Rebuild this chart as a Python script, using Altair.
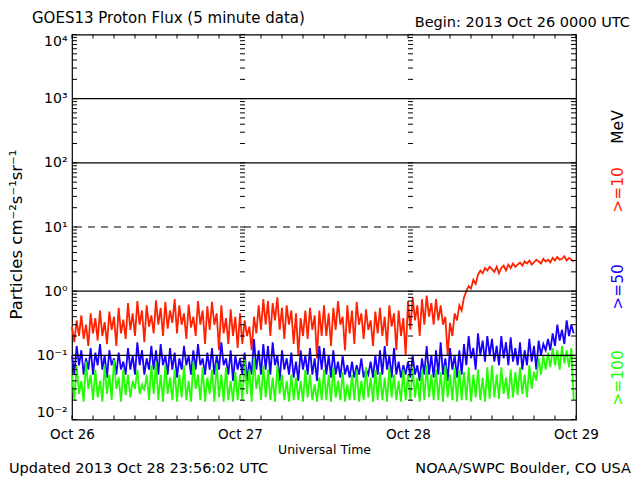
import altair as alt
import pandas as pd

STEP_MIN = 20  # minutes between samples
day_labels = ["Oct 26", "Oct 27", "Oct 28", "Oct 29"]
day_hours = [0, 24, 48, 72]
decades = [0.01, 0.1, 1, 10, 100, 1000, 10000]
exp_labels = ["10⁻²", "10⁻¹", "10⁰", "10¹", "10²", "10³", "10⁴"]

# >=10 MeV
red = [
    0.28, 0.16, 0.35, 0.20, 0.42, 0.18, 0.30, 0.14, 0.45, 0.22, 0.38, 0.17,
    0.50, 0.20, 0.33, 0.15, 0.48, 0.25, 0.40, 0.14, 0.55, 0.22, 0.36, 0.18,
    0.65, 0.25, 0.45, 0.20, 0.70, 0.30, 0.50, 0.16, 0.60, 0.28, 0.42, 0.22,
    0.72, 0.30, 0.55, 0.20, 0.68, 0.26, 0.50, 0.32, 0.75, 0.22, 0.60, 0.30,
    0.45, 0.18, 0.62, 0.27, 0.40, 0.20, 0.70, 0.30, 0.50, 0.15, 0.58, 0.25,
    0.68, 0.30, 0.45, 0.12, 0.60, 0.22, 0.38, 0.15, 0.52, 0.20, 0.40, 0.13,
    0.45, 0.15, 0.35, 0.20, 0.28, 0.12, 0.40, 0.22, 0.60, 0.25, 0.75, 0.30,
    0.70, 0.20, 0.65, 0.35, 0.80, 0.25, 0.55, 0.18, 0.60, 0.30, 0.50, 0.15,
    0.45, 0.10, 0.38, 0.20, 0.50, 0.18, 0.55, 0.25, 0.42, 0.09, 0.50, 0.20,
    0.60, 0.20, 0.45, 0.14, 0.55, 0.25, 0.70, 0.30, 0.40, 0.12, 0.60, 0.22,
    0.50, 0.15, 0.68, 0.30, 0.45, 0.18, 0.52, 0.25, 0.35, 0.14, 0.48, 0.22,
    0.55, 0.20, 0.40, 0.14, 0.60, 0.28, 0.45, 0.12, 0.50, 0.20, 0.38, 0.10,
    0.70, 0.25, 0.80, 0.35, 0.60, 0.20, 0.75, 0.30, 0.85, 0.40, 0.65, 0.30,
    0.75, 0.35, 0.60, 0.30, 0.40, 0.10, 0.32, 0.20, 0.45, 0.35, 0.60, 0.50,
    0.80, 1.00, 1.20, 1.10, 1.50, 1.30, 1.80, 2.10, 1.90, 2.30, 2.10, 2.40,
    2.20, 2.00, 2.40, 1.90, 2.30, 2.50, 2.10, 2.60, 2.30, 2.70, 2.40, 2.60,
    2.80, 2.50, 2.90, 2.70, 3.00, 2.60, 2.80, 3.10, 2.90, 2.70, 3.20, 2.90,
    3.10, 2.80, 3.30, 3.00, 3.40, 3.10, 3.20, 3.50, 3.00, 3.30, 3.10, 2.90,
]

# >=50 MeV
blue = [
    0.10, 0.05, 0.14, 0.07, 0.12, 0.05, 0.09, 0.06, 0.13, 0.05, 0.11, 0.07,
    0.15, 0.06, 0.10, 0.045, 0.12, 0.07, 0.09, 0.05, 0.11, 0.06, 0.08, 0.05,
    0.13, 0.06, 0.10, 0.05, 0.16, 0.07, 0.12, 0.05, 0.09, 0.06, 0.14, 0.06,
    0.12, 0.05, 0.15, 0.07, 0.10, 0.05, 0.13, 0.06, 0.11, 0.045, 0.09, 0.06,
    0.14, 0.07, 0.10, 0.05, 0.12, 0.06, 0.15, 0.07, 0.09, 0.05, 0.11, 0.06,
    0.13, 0.05, 0.10, 0.06, 0.16, 0.07, 0.09, 0.05, 0.12, 0.04, 0.10, 0.06,
    0.09, 0.05, 0.11, 0.04, 0.08, 0.05, 0.18, 0.06, 0.12, 0.05, 0.15, 0.06,
    0.14, 0.05, 0.16, 0.07, 0.10, 0.04, 0.12, 0.06, 0.09, 0.05, 0.11, 0.045,
    0.08, 0.04, 0.12, 0.06, 0.10, 0.05, 0.13, 0.05, 0.09, 0.04, 0.14, 0.06,
    0.13, 0.05, 0.10, 0.045, 0.12, 0.05, 0.08, 0.045, 0.10, 0.05, 0.07, 0.045,
    0.08, 0.045, 0.07, 0.05, 0.09, 0.045, 0.06, 0.05, 0.08, 0.045, 0.10, 0.05,
    0.12, 0.05, 0.14, 0.06, 0.10, 0.045, 0.13, 0.05, 0.08, 0.045, 0.07, 0.05,
    0.08, 0.045, 0.10, 0.05, 0.07, 0.04, 0.09, 0.05, 0.14, 0.05, 0.10, 0.045,
    0.12, 0.05, 0.16, 0.05, 0.09, 0.04, 0.13, 0.06, 0.10, 0.045, 0.12, 0.05,
    0.15, 0.07, 0.20, 0.09, 0.13, 0.06, 0.22, 0.10, 0.17, 0.08, 0.20, 0.10,
    0.18, 0.08, 0.14, 0.07, 0.20, 0.09, 0.16, 0.07, 0.19, 0.08, 0.13, 0.07,
    0.16, 0.06, 0.12, 0.07, 0.18, 0.08, 0.14, 0.06, 0.17, 0.10, 0.15, 0.12,
    0.18, 0.12, 0.22, 0.14, 0.30, 0.17, 0.25, 0.15, 0.35, 0.20, 0.30, 0.22,
]

# >=100 MeV
green = [
    0.05, 0.02, 0.07, 0.025, 0.04, 0.019, 0.08, 0.03, 0.05, 0.02, 0.06, 0.022,
    0.04, 0.019, 0.07, 0.025, 0.05, 0.02, 0.085, 0.03, 0.045, 0.019, 0.06, 0.024,
    0.05, 0.022, 0.04, 0.03, 0.06, 0.025, 0.035, 0.028, 0.05, 0.02, 0.07, 0.025,
    0.08, 0.02, 0.05, 0.019, 0.07, 0.025, 0.045, 0.02, 0.06, 0.019, 0.05, 0.022,
    0.07, 0.02, 0.04, 0.019, 0.08, 0.03, 0.05, 0.02, 0.065, 0.019, 0.045, 0.025,
    0.06, 0.019, 0.075, 0.022, 0.05, 0.019, 0.065, 0.02, 0.04, 0.019, 0.055, 0.02,
    0.05, 0.02, 0.085, 0.025, 0.06, 0.019, 0.09, 0.03, 0.05, 0.02, 0.07, 0.022,
    0.06, 0.02, 0.045, 0.019, 0.07, 0.025, 0.05, 0.02, 0.04, 0.019, 0.05, 0.02,
    0.045, 0.02, 0.04, 0.019, 0.06, 0.022, 0.05, 0.02, 0.035, 0.019, 0.045, 0.02,
    0.06, 0.02, 0.05, 0.019, 0.065, 0.022, 0.04, 0.02, 0.055, 0.019, 0.035, 0.02,
    0.05, 0.02, 0.06, 0.019, 0.04, 0.02, 0.065, 0.022, 0.045, 0.019, 0.06, 0.02,
    0.055, 0.02, 0.045, 0.019, 0.065, 0.022, 0.05, 0.02, 0.04, 0.019, 0.06, 0.02,
    0.05, 0.02, 0.065, 0.022, 0.045, 0.019, 0.06, 0.02, 0.07, 0.022, 0.05, 0.02,
    0.06, 0.02, 0.055, 0.019, 0.07, 0.022, 0.05, 0.02, 0.065, 0.019, 0.06, 0.02,
    0.055, 0.02, 0.065, 0.019, 0.05, 0.022, 0.06, 0.02, 0.045, 0.019, 0.065, 0.021,
    0.07, 0.022, 0.05, 0.021, 0.065, 0.025, 0.045, 0.021, 0.06, 0.022, 0.055, 0.024,
    0.065, 0.025, 0.05, 0.022, 0.07, 0.03, 0.055, 0.04, 0.09, 0.05, 0.10, 0.06,
    0.11, 0.065, 0.13, 0.07, 0.12, 0.06, 0.14, 0.075, 0.12, 0.065, 0.13, 0.02,
]

RED, BLUE, GREEN = "#ff2200", "#1800ff", "#22ff00"
FONT = "DejaVu Sans"


def series(vals):
    return pd.DataFrame({"hour": [i * STEP_MIN / 60 for i in range(len(vals))], "val": vals})


day_expr = " : ".join(
    f"datum.value < {h + 12} ? '{l}'" for h, l in zip(day_hours[:-1], day_labels[:-1])
) + f" : '{day_labels[-1]}'"
exp_expr = " : ".join(
    f"datum.value < {d * 3} ? '{l}'" for d, l in zip(decades, exp_labels)
) + " : ''"

X = alt.X(
    "hour:Q",
    scale=alt.Scale(domain=[0, 72], nice=False, zero=False),
    axis=alt.Axis(values=day_hours, labelExpr=day_expr, title="Universal Time",
                  ticks=False, domain=False, grid=False, labelFlush=False,
                  labelPadding=8, labelFontSize=13.5, titleFontSize=12.5,
                  titlePadding=2, titleFontWeight="normal"),
)
Y = alt.Y(
    "val:Q",
    scale=alt.Scale(type="log", domain=[0.01, 10000], nice=False),
    axis=alt.Axis(values=decades, labelExpr=exp_expr, title=None, ticks=False,
                  domain=False, grid=False, labelFlush=True, labelPadding=5,
                  labelFontSize=14),
)

# tick positions (axis decoration)
minor = [m * 10.0 ** k for k in range(-2, 4) for m in range(1, 10)] + [10000.0]
side_df = pd.DataFrame([{"hour": h, "val": v} for h in day_hours[:-1] for v in minor])
right_df = pd.DataFrame([{"hour": day_hours[-1], "val": v} for v in minor])
hour_ticks = list(range(0, 73, 3))
top_df = pd.DataFrame({"hour": hour_ticks, "val": [10000.0] * len(hour_ticks)})
bot_df = pd.DataFrame({"hour": hour_ticks, "val": [0.01] * len(hour_ticks)})

left_ticks = alt.Chart(side_df).mark_rule(color="black", x2Offset=5).encode(x=X, x2="hour:Q", y=Y)
right_ticks = alt.Chart(right_df).mark_rule(color="black", xOffset=-5).encode(x=X, x2="hour:Q", y=Y)
top_ticks = alt.Chart(top_df).mark_rule(color="black", y2Offset=4).encode(x=X, y=Y, y2="val:Q")
bot_ticks = alt.Chart(bot_df).mark_rule(color="black", yOffset=-4).encode(x=X, y=Y, y2="val:Q")

grid = alt.Chart(pd.DataFrame({"val": [0.1, 1, 100, 1000]})).mark_rule(
    color="black", strokeWidth=1.2).encode(y=Y)
grid_dash = alt.Chart(pd.DataFrame({"val": [10]})).mark_rule(
    color="black", strokeWidth=1.2, strokeDash=[7, 6]).encode(y=Y)

l_red = alt.Chart(series(red)).mark_line(color=RED, strokeWidth=1.8).encode(x=X, y=Y)
l_blue = alt.Chart(series(blue)).mark_line(color=BLUE, strokeWidth=1.8).encode(x=X, y=Y)
l_green = alt.Chart(series(green)).mark_line(color=GREEN, strokeWidth=1.8).encode(x=X, y=Y)

one = pd.DataFrame({"a": [0]})


def txt(s, x, y, size, color="black", align="left", angle=0):
    kw = dict(font=FONT, fontSize=size, color=color, align=align, baseline="alphabetic")
    if angle:
        kw["angle"] = angle
    return alt.Chart(one).mark_text(**kw).encode(
        x=alt.value(x), y=alt.value(y), text=alt.value(s))


texts = [
    txt("GOES13 Proton Flux (5 minute data)", -40, -11.8, 15),
    txt("Begin: 2013 Oct 26 0000 UTC", 558, -7.8, 14.5, align="right"),
    txt("Updated 2013 Oct 28 23:56:02 UTC", -63, 438.5, 14.5),
    txt("NOAA/SWPC Boulder, CO USA", 559, 438.5, 14.5, align="right"),
    txt("Particles cm⁻²s⁻¹sr⁻¹", -50, 200, 16.5, align="center", angle=270),
    txt("MeV", 551, 92.5, 15.5, align="center", angle=270),
    txt(">=10", 551, 155.5, 15.5, color=RED, align="center", angle=270),
    txt(">=50", 551, 252.5, 15.5, color=BLUE, align="center", angle=270),
    txt(">=100", 551, 343.5, 15.5, color=GREEN, align="center", angle=270),
]

chart = alt.layer(
    l_red, l_blue, l_green, grid, grid_dash,
    left_ticks, right_ticks, top_ticks, bot_ticks, *texts
).properties(
    width=504, height=385,
    autosize=alt.AutoSizeParams(type="none"),
    padding={"left": 64, "top": 26.5, "right": 56, "bottom": 58},
    background="white",
).configure_view(stroke="black", strokeWidth=1.2).configure_axis(
    labelFont=FONT, titleFont=FONT, labelColor="black", titleColor="black"
)

chart.save("out.html", embed_options={"renderer": "svg", "actions": False})
